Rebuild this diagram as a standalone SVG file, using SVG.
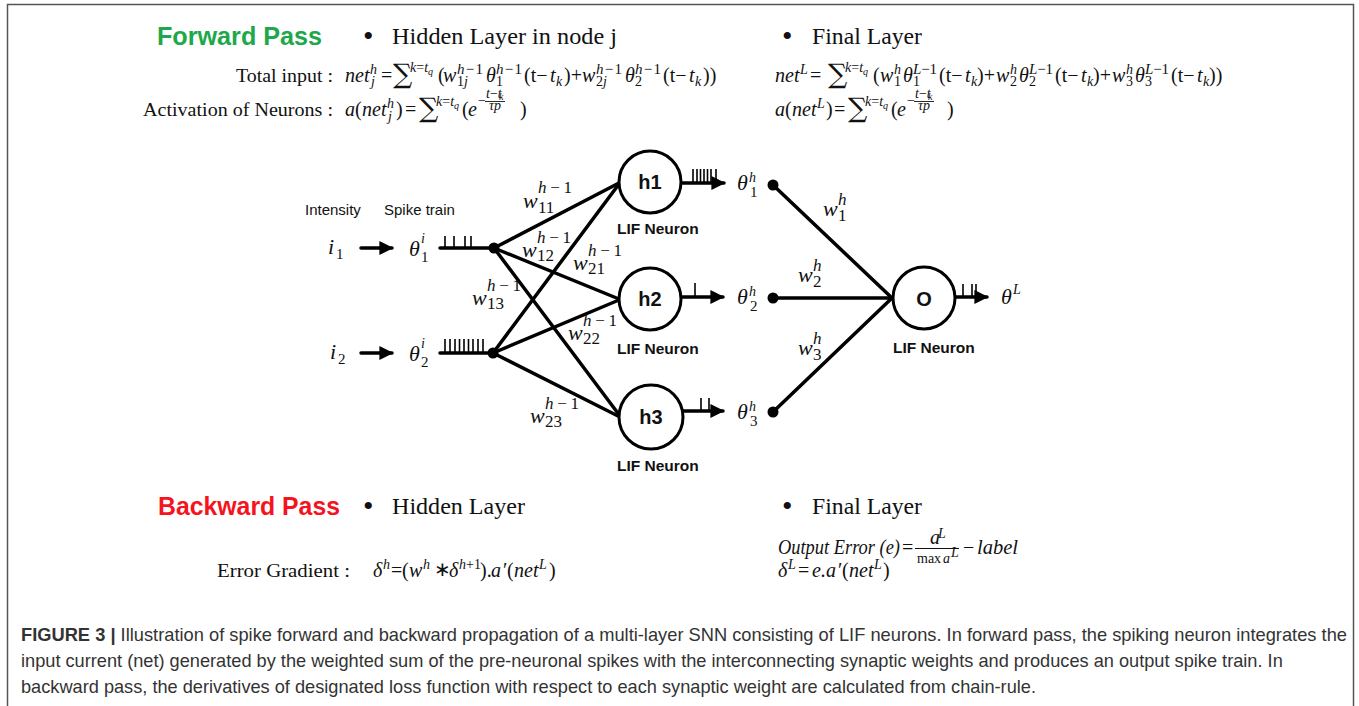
<svg xmlns="http://www.w3.org/2000/svg" width="1359" height="706" viewBox="0 0 1359 706">
<defs>
<style>
.m{font-family:"Liberation Serif",serif;font-size:20px;fill:#111}
.mi{font-family:"Liberation Serif",serif;font-size:20px;font-style:italic;fill:#111}
.sum{font-family:"DejaVu Serif","Liberation Serif",serif;font-size:27px;fill:#111}
.si{font-family:"Liberation Serif",serif;font-size:14px;font-style:italic;fill:#111}
.sr{font-family:"Liberation Serif",serif;font-size:14px;fill:#111}
.s15{font-family:"Liberation Serif",serif;font-size:15px;fill:#111}
.ss{font-family:"Liberation Serif",serif;font-size:10px;font-style:italic;fill:#111}
.lab{font-family:"Liberation Serif",serif;font-size:19px;fill:#111}
.head{font-family:"Liberation Serif",serif;font-size:23px;fill:#111}
.bul{font-family:"Liberation Serif",serif;font-size:30px;fill:#111}
.pass{font-family:"Liberation Sans",Arial,sans-serif;font-size:25px;font-weight:bold}
.wv{font-family:"Liberation Serif",serif;font-size:22px;font-style:italic;fill:#111}
.ws{font-family:"Liberation Serif",serif;font-size:17px;fill:#111}
.th{font-family:"Liberation Serif",serif;font-size:22px;font-style:italic;fill:#111}
.sans{font-family:"Liberation Sans",Arial,sans-serif;font-size:15px;fill:#111}
.nl{font-family:"Liberation Sans",Arial,sans-serif;font-size:15.5px;font-weight:bold;fill:#111}
.nn{font-family:"Liberation Sans",Arial,sans-serif;font-size:20px;font-weight:bold;fill:#111;text-anchor:middle}
.cap{font-family:"Liberation Sans",Arial,sans-serif;font-size:18.2px;fill:#333}
.it{font-style:italic}
.up{font-style:normal}
.ln{stroke:#000;stroke-width:3.5;fill:none;stroke-linecap:round}
.sp{stroke:#000;stroke-width:1.6;fill:none}
.circ{fill:#fff;stroke:#000;stroke-width:3}
.dot{fill:#000}
</style>
<marker id="ah" viewBox="0 0 10 10" refX="9" refY="5" markerWidth="4" markerHeight="4" orient="auto" markerUnits="strokeWidth">
<path d="M0,0 L10,5 L0,10 z" fill="#000"/>
</marker>
</defs>
<rect x="0" y="0" width="1359" height="706" fill="#fff"/>
<rect x="7.5" y="4.5" width="1346" height="720" fill="none" stroke="#555" stroke-width="1.5"/>

<!-- Headings -->
<g id="forward-heading">
<text class="pass" x="157" y="45" fill="#1ea84b" textLength="165" lengthAdjust="spacingAndGlyphs">Forward Pass</text>
<text class="bul" x="363" y="46">•</text>
<text class="head" x="392" y="44" textLength="225" lengthAdjust="spacingAndGlyphs">Hidden Layer in node j</text>
<text class="bul" x="782" y="46">•</text>
<text class="head" x="812" y="44" textLength="110" lengthAdjust="spacingAndGlyphs">Final Layer</text>
</g>

<!-- Forward formulas left -->
<g id="forward-hidden-formulas">
<text class="lab" x="236" y="82" textLength="97" lengthAdjust="spacingAndGlyphs">Total input :</text>
<text class="mi" x="345" y="82">net</text>
<text class="si" x="370" y="74">h</text><text class="si" x="371" y="86">j</text>
<text class="m" x="381" y="82">=</text>
<text class="sum" x="393" y="83">∑</text>
<text class="si" x="410" y="72">k<tspan class="up">=</tspan>t</text><text class="ss" x="428" y="75">q</text>
<text class="m" x="438" y="82">(</text>
<text class="mi" x="443" y="82">w</text>
<text class="s15" x="457" y="74" textLength="26" lengthAdjust="spacing"><tspan class="it">h</tspan>−1</text><text class="sr" x="457" y="86">1<tspan class="it">j</tspan></text>
<text class="mi" x="486" y="82">θ</text>
<text class="s15" x="496" y="74" textLength="26" lengthAdjust="spacing"><tspan class="it">h</tspan>−1</text><text class="sr" x="496" y="86">1</text>
<text class="m" x="524" y="82">(t−</text>
<text class="mi" x="550" y="82">t</text><text class="si" x="556" y="86">k</text>
<text class="m" x="564" y="82">)+</text>
<text class="mi" x="582" y="82">w</text>
<text class="s15" x="596" y="74" textLength="26" lengthAdjust="spacing"><tspan class="it">h</tspan>−1</text><text class="sr" x="596" y="86">2<tspan class="it">j</tspan></text>
<text class="mi" x="625" y="82">θ</text>
<text class="s15" x="635" y="74" textLength="26" lengthAdjust="spacing"><tspan class="it">h</tspan>−1</text><text class="sr" x="635" y="86">2</text>
<text class="m" x="663" y="82">(t−</text>
<text class="mi" x="689" y="82">t</text><text class="si" x="695" y="86">k</text>
<text class="m" x="703" y="82">))</text>

<text class="lab" x="143" y="116" textLength="190" lengthAdjust="spacingAndGlyphs">Activation of Neurons :</text>
<text class="mi" x="345" y="116">a</text>
<text class="m" x="355" y="116">(</text>
<text class="mi" x="362" y="116">net</text>
<text class="si" x="387" y="108">h</text><text class="si" x="388" y="121">j</text>
<text class="m" x="396" y="116">)</text>
<text class="m" x="405" y="116">=</text>
<text class="sum" x="419" y="117">∑</text>
<text class="si" x="436" y="106">k<tspan class="up">=</tspan>t</text><text class="ss" x="454" y="109">q</text>
<text class="m" x="462" y="116">(</text>
<text class="mi" x="468" y="116">e</text>
<text class="sr" x="478" y="105" font-size="12">−</text>
<text class="sr" x="486" y="98" font-size="11"><tspan class="it">t</tspan>−<tspan class="it">t</tspan></text><text class="ss" x="499" y="100" font-size="8">k</text>
<line x1="485" y1="101.5" x2="505" y2="101.5" stroke="#111" stroke-width="0.9"/>
<text class="si" x="489" y="110" font-size="11">τp</text>
<text class="m" x="520" y="116">)</text>
</g>

<!-- Forward formulas right -->
<g id="forward-final-formulas">
<text class="mi" x="775" y="82">net</text>
<text class="si" x="800" y="74">L</text>
<text class="m" x="810" y="82">=</text>
<text class="sum" x="828" y="83">∑</text>
<text class="si" x="845" y="72">k<tspan class="up">=</tspan>t</text><text class="ss" x="863" y="75">q</text>
<text class="m" x="873" y="82">(</text>
<text class="mi" x="880" y="82">w</text>
<text class="si" x="894" y="74">h</text><text class="sr" x="894" y="86">1</text>
<text class="mi" x="903" y="82">θ</text>
<text class="s15" x="913" y="74" textLength="24" lengthAdjust="spacing"><tspan class="it">L</tspan>−1</text><text class="sr" x="913" y="86">1</text>
<text class="m" x="939" y="82">(t−</text>
<text class="mi" x="965" y="82">t</text><text class="si" x="971" y="86">k</text>
<text class="m" x="977" y="82">)+</text>
<text class="mi" x="996" y="82">w</text>
<text class="si" x="1010" y="74">h</text><text class="sr" x="1010" y="86">2</text>
<text class="mi" x="1019" y="82">θ</text>
<text class="s15" x="1029" y="74" textLength="24" lengthAdjust="spacing"><tspan class="it">L</tspan>−1</text><text class="sr" x="1029" y="86">2</text>
<text class="m" x="1055" y="82">(t−</text>
<text class="mi" x="1081" y="82">t</text><text class="si" x="1087" y="86">k</text>
<text class="m" x="1093" y="82">)+</text>
<text class="mi" x="1112" y="82">w</text>
<text class="si" x="1126" y="74">h</text><text class="sr" x="1126" y="86">3</text>
<text class="mi" x="1135" y="82">θ</text>
<text class="s15" x="1145" y="74" textLength="24" lengthAdjust="spacing"><tspan class="it">L</tspan>−1</text><text class="sr" x="1145" y="86">3</text>
<text class="m" x="1171" y="82">(t−</text>
<text class="mi" x="1197" y="82">t</text><text class="si" x="1203" y="86">k</text>
<text class="m" x="1209" y="82">))</text>

<text class="mi" x="775" y="116">a</text>
<text class="m" x="785" y="116">(</text>
<text class="mi" x="792" y="116">net</text>
<text class="si" x="817" y="108">L</text>
<text class="m" x="826" y="116">)</text>
<text class="m" x="834" y="116">=</text>
<text class="sum" x="848" y="117">∑</text>
<text class="si" x="865" y="106">k<tspan class="up">=</tspan>t</text><text class="ss" x="883" y="109">q</text>
<text class="m" x="891" y="116">(</text>
<text class="mi" x="897" y="116">e</text>
<text class="sr" x="907" y="105" font-size="12">−</text>
<text class="sr" x="915" y="98" font-size="11"><tspan class="it">t</tspan>−<tspan class="it">t</tspan></text><text class="ss" x="928" y="100" font-size="8">k</text>
<line x1="914" y1="101.5" x2="934" y2="101.5" stroke="#111" stroke-width="0.9"/>
<text class="si" x="918" y="110" font-size="11">τp</text>
<text class="m" x="947" y="116">)</text>
</g>

<!-- Connectors -->
<g id="connectors">
<line class="ln" x1="361" y1="248" x2="392" y2="248" marker-end="url(#ah)"/>
<line class="ln" x1="361" y1="353" x2="392" y2="353" marker-end="url(#ah)"/>
<line class="ln" x1="440" y1="248" x2="494" y2="248"/>
<path class="sp" d="M445,248V236 M454,248V236 M465,248V236 M471,248V236"/>
<line class="ln" x1="440" y1="353" x2="493" y2="353"/>
<path class="sp" d="M445,353V339 M450,353V339 M455,353V339 M459.5,353V339 M464,353V339 M468.5,353V339 M473,353V339 M478,353V339 M483,353V339"/>
<line class="ln" x1="494" y1="248" x2="619" y2="183"/>
<line class="ln" x1="494" y1="248" x2="619" y2="299"/>
<line class="ln" x1="494" y1="248" x2="620" y2="416"/>
<line class="ln" x1="493" y1="353" x2="619" y2="184"/>
<line class="ln" x1="493" y1="353" x2="619" y2="300"/>
<line class="ln" x1="493" y1="353" x2="620" y2="417"/>
<line class="ln" x1="681" y1="183" x2="724" y2="183" marker-end="url(#ah)"/>
<path class="sp" d="M693,183V169 M697,183V169 M700.5,183V169 M704,183V169 M707.5,183V169 M711,183V169 M716,183V169"/>
<line class="ln" x1="681" y1="297" x2="723" y2="297" marker-end="url(#ah)"/>
<path class="sp" d="M695,297V283"/>
<line class="ln" x1="682" y1="411" x2="723" y2="411" marker-end="url(#ah)"/>
<path class="sp" d="M701,411V398 M709,411V398"/>
<line class="ln" x1="773" y1="185" x2="892" y2="298"/>
<line class="ln" x1="773" y1="298" x2="892" y2="298"/>
<line class="ln" x1="773" y1="412" x2="892" y2="298"/>
<line class="ln" x1="955" y1="297" x2="987" y2="297" marker-end="url(#ah)"/>
<path class="sp" d="M963,297V284 M972,297V284 M976,297V284"/>
</g>

<!-- Inputs -->
<g id="input-labels">
<text class="sans" x="305" y="215">Intensity</text>
<text class="sans" x="384" y="215">Spike train</text>
</g>
<g id="input1">
<text class="th" x="328" y="254" font-size="24">i</text><text class="s15" x="336" y="259" font-size="16">1</text>
<text class="th" x="409" y="256">θ</text><text class="si" x="421" y="243" font-size="15">i</text><text class="s15" x="421" y="262">1</text>
<circle class="dot" cx="494" cy="248" r="5.5"/>
</g>
<g id="input2">
<text class="th" x="330" y="359" font-size="24">i</text><text class="s15" x="338" y="364" font-size="16">2</text>
<text class="th" x="409" y="361">θ</text><text class="si" x="421" y="348" font-size="15">i</text><text class="s15" x="421" y="367">2</text>
<circle class="dot" cx="493" cy="353" r="5.5"/>
</g>

<!-- Weight labels -->
<g id="weights-hidden">
<text class="wv" x="523" y="208">w</text><text class="ws" x="538" y="193" textLength="34" lengthAdjust="spacing"><tspan class="it">h</tspan>−1</text><text class="ws" x="538" y="213">11</text>
<text class="wv" x="522" y="257">w</text><text class="ws" x="537" y="243" textLength="34" lengthAdjust="spacing"><tspan class="it">h</tspan>−1</text><text class="ws" x="537" y="261">12</text>
<text class="wv" x="573" y="270">w</text><text class="ws" x="588" y="256" textLength="34" lengthAdjust="spacing"><tspan class="it">h</tspan>−1</text><text class="ws" x="588" y="274">21</text>
<text class="wv" x="472" y="305">w</text><text class="ws" x="487" y="291" textLength="34" lengthAdjust="spacing"><tspan class="it">h</tspan>−1</text><text class="ws" x="487" y="309">13</text>
<text class="wv" x="568" y="340">w</text><text class="ws" x="583" y="326" textLength="34" lengthAdjust="spacing"><tspan class="it">h</tspan>−1</text><text class="ws" x="583" y="344">22</text>
<text class="wv" x="530" y="423">w</text><text class="ws" x="545" y="409" textLength="34" lengthAdjust="spacing"><tspan class="it">h</tspan>−1</text><text class="ws" x="545" y="427">23</text>
</g>
<g id="weights-final">
<text class="wv" x="823" y="216">w</text><text class="ws it" x="838" y="205">h</text><text class="ws" x="838" y="221">1</text>
<text class="wv" x="798" y="282">w</text><text class="ws it" x="813" y="271">h</text><text class="ws" x="813" y="287">2</text>
<text class="wv" x="798" y="355">w</text><text class="ws it" x="813" y="344">h</text><text class="ws" x="813" y="360">3</text>
</g>

<!-- Hidden neurons -->
<g id="node-h1">
<circle class="circ" cx="650" cy="182" r="31"/>
<text class="nn" x="650" y="189">h1</text>
<text class="nl" x="617" y="234">LIF Neuron</text>
</g>
<g id="node-h2">
<circle class="circ" cx="650" cy="299" r="31"/>
<text class="nn" x="650" y="306">h2</text>
<text class="nl" x="617" y="354">LIF Neuron</text>
</g>
<g id="node-h3">
<circle class="circ" cx="651" cy="417" r="32"/>
<text class="nn" x="651" y="424">h3</text>
<text class="nl" x="617" y="471">LIF Neuron</text>
</g>

<!-- Hidden outputs -->
<g id="out-h1">
<text class="th" x="737" y="190">θ</text><text class="si" x="749" y="182" font-size="15">h</text><text class="s15" x="750" y="197">1</text>
<circle class="dot" cx="773" cy="185" r="5.5"/>
</g>
<g id="out-h2">
<text class="th" x="737" y="304">θ</text><text class="si" x="749" y="296" font-size="15">h</text><text class="s15" x="750" y="311">2</text>
<circle class="dot" cx="773" cy="298" r="5.5"/>
</g>
<g id="out-h3">
<text class="th" x="737" y="419">θ</text><text class="si" x="749" y="411" font-size="15">h</text><text class="s15" x="750" y="426">3</text>
<circle class="dot" cx="773" cy="412" r="5.5"/>
</g>

<!-- Output neuron -->
<g id="node-o">
<circle class="circ" cx="924" cy="298" r="31"/>
<text class="nn" x="924" y="306">O</text>
<text class="nl" x="893" y="353">LIF Neuron</text>
<text class="th" x="1001" y="304">θ</text><text class="si" x="1013" y="294" font-size="15">L</text>
</g>

<!-- Backward -->
<g id="backward-heading">
<text class="pass" x="158" y="515" fill="#f5141e" textLength="182" lengthAdjust="spacingAndGlyphs">Backward Pass</text>
<text class="bul" x="363" y="516">•</text>
<text class="head" x="392" y="514" textLength="133" lengthAdjust="spacingAndGlyphs">Hidden Layer</text>
<text class="bul" x="782" y="516">•</text>
<text class="head" x="812" y="514" textLength="110" lengthAdjust="spacingAndGlyphs">Final Layer</text>
</g>
<g id="backward-hidden-formula">
<text class="lab" x="217" y="577" textLength="133" lengthAdjust="spacingAndGlyphs">Error Gradient :</text>
<text class="mi" x="373" y="577">δ</text><text class="si" x="383" y="569">h</text>
<text class="m" x="391" y="577">=</text><text class="m" x="402" y="577">(</text>
<text class="mi" x="409" y="577">w</text><text class="si" x="423" y="569">h</text>
<text class="m" x="434" y="576" font-family="DejaVu Sans" font-size="12">∗</text>
<text class="mi" x="449" y="577">δ</text><text class="sr" x="459" y="569"><tspan class="it">h</tspan>+1</text>
<text class="m" x="480" y="577">).</text>
<text class="mi" x="491" y="577">a</text><text class="m" x="503" y="577">′</text><text class="m" x="507" y="577">(</text>
<text class="mi" x="514" y="577">net</text><text class="si" x="539" y="569">L</text>
<text class="m" x="549" y="577">)</text>
</g>
<g id="backward-final-formula">
<text class="mi" x="778" y="554" textLength="122" lengthAdjust="spacingAndGlyphs">Output Error (e)</text>
<text class="m" x="902" y="554" font-size="17">=</text>
<text class="mi" x="930" y="544" font-size="15">a</text><text class="si" x="938" y="538" font-size="11">L</text>
<line x1="915" y1="548.5" x2="959" y2="548.5" stroke="#111" stroke-width="1"/>
<text class="sr" x="917" y="563">max</text><text class="si" x="943" y="563" font-size="15">a</text><text class="si" x="951" y="557" font-size="11">L</text>
<text class="m" x="963" y="554">−</text>
<text class="mi" x="977" y="554" textLength="41" lengthAdjust="spacingAndGlyphs">label</text>
<text class="mi" x="778" y="577">δ</text><text class="si" x="788" y="569">L</text>
<text class="m" x="798" y="577">=</text>
<text class="mi" x="812" y="577">e.a</text><text class="m" x="838" y="577">′</text><text class="m" x="842" y="577">(</text>
<text class="mi" x="849" y="577">net</text><text class="si" x="874" y="569">L</text>
<text class="m" x="883" y="577">)</text>
</g>

<!-- Caption -->
<g id="caption">
<text class="cap" x="21" y="641" textLength="1326" lengthAdjust="spacingAndGlyphs"><tspan font-weight="bold">FIGURE 3 |</tspan> Illustration of spike forward and backward propagation of a multi-layer SNN consisting of LIF neurons. In forward pass, the spiking neuron integrates the</text>
<text class="cap" x="21" y="667">input current (net) generated by the weighted sum of the pre-neuronal spikes with the interconnecting synaptic weights and produces an output spike train. In</text>
<text class="cap" x="21" y="693">backward pass, the derivatives of designated loss function with respect to each synaptic weight are calculated from chain-rule.</text>
</g>
</svg>
